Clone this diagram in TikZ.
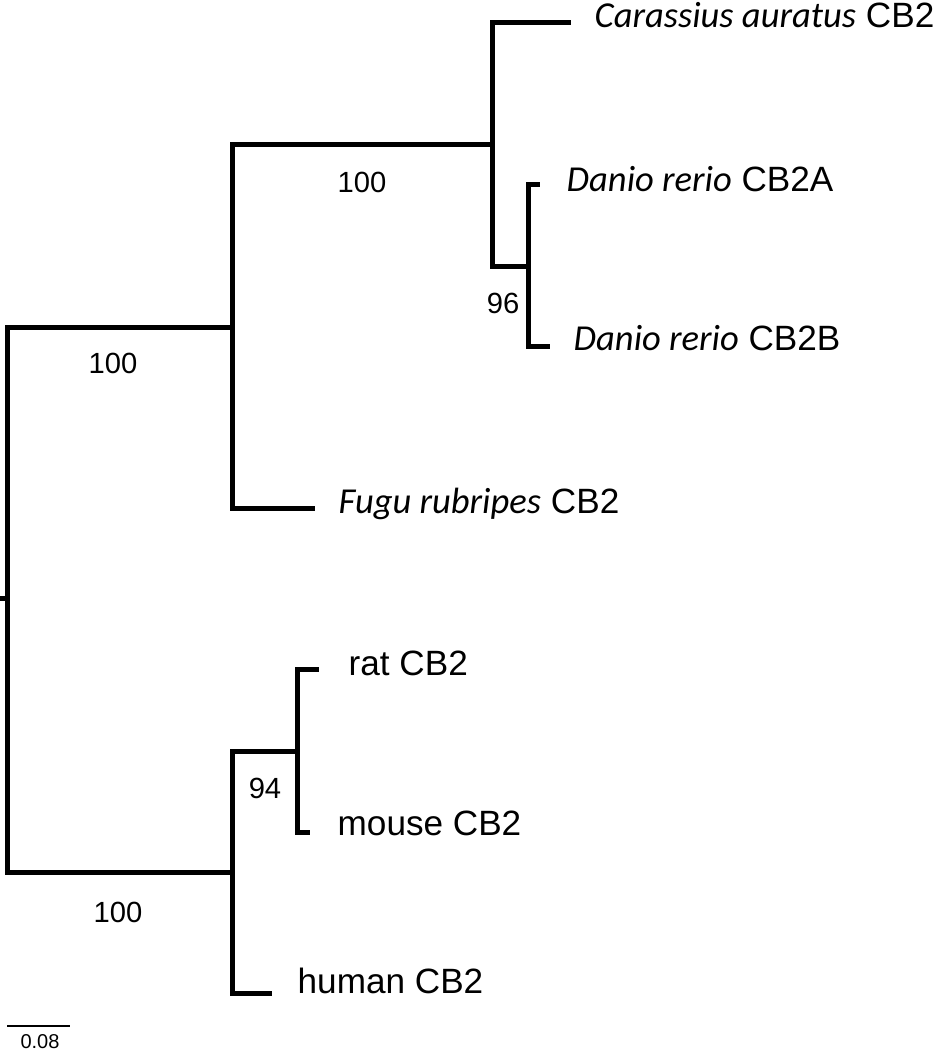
\documentclass[tikz,border=0pt]{standalone}
\usepackage{fontspec}
\setmainfont{Liberation Sans}
\newfontfamily\spfont{Carlito}
\newcommand{\species}[1]{{\spfont\itshape\fontsize{10.4}{12}\selectfont #1}}
\begin{document}
\begin{tikzpicture}[x=0.1mm, y=-0.1mm,
  branch/.style={line width=0.5mm, line join=miter},
  leaf/.style={anchor=base west, inner sep=0pt, font=\fontsize{10}{12}\selectfont},
  boot/.style={inner sep=0pt, font=\fontsize{8.3}{10}\selectfont}]
\useasboundingbox (0,0) rectangle (939,1050);

% inner nodes
\coordinate (stub) at (0,598);
\coordinate (r) at (7,598);
\coordinate (fish) at (232,327);
\coordinate (cyp) at (492,145);
\coordinate (danio) at (528,266);
\coordinate (mam) at (232,872);
\coordinate (rod) at (297,751);

% tips
\coordinate (car) at (571,23);
\coordinate (dreA) at (540,185);
\coordinate (dreB) at (550,346);
\coordinate (fugu) at (315,508);
\coordinate (rat) at (319,669);
\coordinate (mouse) at (310,832);
\coordinate (human) at (272,993);

\draw [branch] (stub) -- (r);
\draw [branch] (r) |- (fish);
\draw [branch] (r) |- (mam);
\draw [branch] (fish) |- (cyp);
\draw [branch] (fish) |- (fugu);
\draw [branch] (cyp) |- (car);
\draw [branch] (cyp) |- (danio);
\draw [branch] (danio) |- (dreA);
\draw [branch] (danio) |- (dreB);
\draw [branch] (mam) |- (rod);
\draw [branch] (mam) |- (human);
\draw [branch] (rod) |- (rat);
\draw [branch] (rod) |- (mouse);

% labels
\node [leaf] (lcar) at (594,28) {\species{Carassius auratus} CB2};
\node [leaf] (ldreA) at (566,192) {\species{Danio rerio} CB2A};
\node [leaf] (ldreB) at (573,350) {\species{Danio rerio} CB2B};
\node [leaf] (lfugu) at (338,513) {\species{Fugu rubripes} CB2};
\node [leaf] (lrat) at (348,675) {rat CB2};
\node [leaf] (lmouse) at (337,835) {mouse CB2};
\node [leaf] (lhuman) at (297,993) {human CB2};

% bootstrap
\node [boot] (bfish) at (113,363) {100};
\node [boot] (bcyp) at (362,182) {100};
\node [boot] (bdanio) at (503,303) {96};
\node [boot] (bmam) at (118,912) {100};
\node [boot] (brod) at (265,788) {94};

% scale bar
\coordinate (sb1) at (7,1026);
\coordinate (sb2) at (70,1026);
\draw [line width=0.2mm] (sb1) -- (sb2);
\node [inner sep=0pt, font=\fontsize{5.7}{7}\selectfont] (sbl) at (40,1042) {0.08};
\end{tikzpicture}
\end{document}
